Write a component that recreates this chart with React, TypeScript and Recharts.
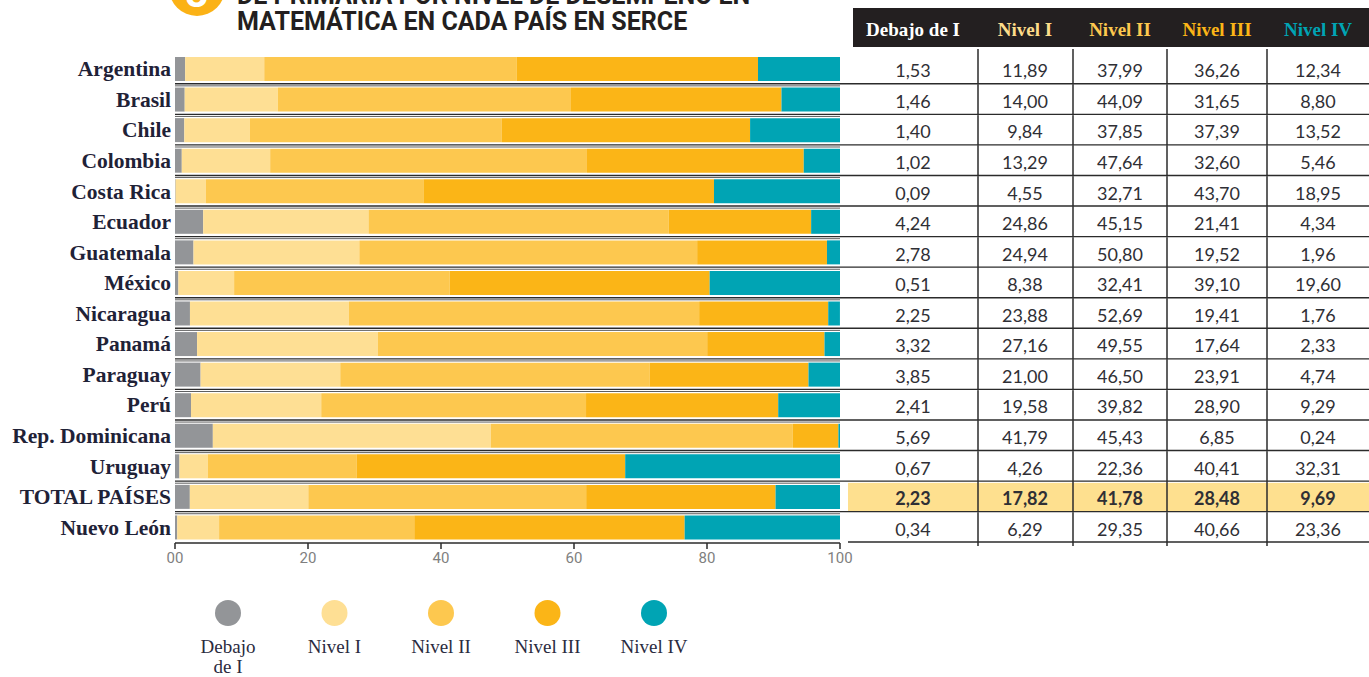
import { Bar, BarChart, XAxis, YAxis } from "recharts";

const countries = [
  "Argentina",
  "Brasil",
  "Chile",
  "Colombia",
  "Costa Rica",
  "Ecuador",
  "Guatemala",
  "México",
  "Nicaragua",
  "Panamá",
  "Paraguay",
  "Perú",
  "Rep. Dominicana",
  "Uruguay",
  "TOTAL PAÍSES",
  "Nuevo León",
];

const debajoDeI = [1.53, 1.46, 1.4, 1.02, 0.09, 4.24, 2.78, 0.51, 2.25, 3.32, 3.85, 2.41, 5.69, 0.67, 2.23, 0.34];
const nivelI = [11.89, 14.0, 9.84, 13.29, 4.55, 24.86, 24.94, 8.38, 23.88, 27.16, 21.0, 19.58, 41.79, 4.26, 17.82, 6.29];
const nivelII = [37.99, 44.09, 37.85, 47.64, 32.71, 45.15, 50.8, 32.41, 52.69, 49.55, 46.5, 39.82, 45.43, 22.36, 41.78, 29.35];
const nivelIII = [36.26, 31.65, 37.39, 32.6, 43.7, 21.41, 19.52, 39.1, 19.41, 17.64, 23.91, 28.9, 6.85, 40.41, 28.48, 40.66];
const nivelIV = [12.34, 8.8, 13.52, 5.46, 18.95, 4.34, 1.96, 19.6, 1.76, 2.33, 4.74, 9.29, 0.24, 32.31, 9.69, 23.36];

const xTicks = [0, 20, 40, 60, 80, 100];
const xTickLabels = ["00", "20", "40", "60", "80", "100"];

const series = [
  { key: "debajo", name: "Debajo de I", legend: ["Debajo", "de I"], values: debajoDeI, color: "#939598", head: "#ffffff" },
  { key: "n1", name: "Nivel I", legend: ["Nivel I"], values: nivelI, color: "#fedf94", head: "#fddc8a" },
  { key: "n2", name: "Nivel II", legend: ["Nivel II"], values: nivelII, color: "#fdc84f", head: "#fdc84f" },
  { key: "n3", name: "Nivel III", legend: ["Nivel III"], values: nivelIII, color: "#fbb517", head: "#fbb517" },
  { key: "n4", name: "Nivel IV", legend: ["Nivel IV"], values: nivelIV, color: "#00a4b4", head: "#00a4b4" },
];

const data = countries.map((country, i) => {
  const row: Record<string, string | number> = { country };
  series.forEach((s) => {
    row[s.key] = s.values[i];
  });
  return row;
});

const W = 1369;
const H = 677;
const TOP = 54;
const BOTTOM = 543;
const LEFT = 175;
const RIGHT = 840;
const ROW_H = (BOTTOM - TOP) / countries.length;
const TABLE_X = 848;
const colCenters = [913, 1025, 1120, 1217, 1318];
const colDividers = [978, 1073, 1167, 1267];
const totalIndex = countries.indexOf("TOTAL PAÍSES");

const fmt = (v: number) => v.toFixed(2).replace(".", ",");

function CountryTick(props: any) {
  const { y, payload } = props;
  return (
    <text
      x={LEFT - 4}
      y={y}
      textAnchor="end"
      dominantBaseline="central"
      fontFamily="Liberation Serif"
      fontWeight="bold"
      fontSize={21.5}
      fill="#1f2237"
    >
      {payload.value}
    </text>
  );
}

function TableRow(props: any) {
  const { y, payload } = props;
  const i = countries.indexOf(payload.value);
  const last = i === countries.length - 1;
  const yb = y + ROW_H / 2;
  const top = i === 0 ? 49 : y - ROW_H / 2;
  const bottom = last ? yb + 3 : yb;
  return (
    <g>
      {i === totalIndex && (
        <rect x={TABLE_X} y={y - ROW_H / 2 + 1} width={W - TABLE_X} height={ROW_H - 2} fill="#fee08f" />
      )}
      {series.map((s, c) => (
        <text
          key={s.key}
          x={colCenters[c]}
          y={y + 1}
          textAnchor="middle"
          dominantBaseline="central"
          fontFamily="Lato"
          fontWeight={i === totalIndex ? "bold" : "normal"}
          fontSize={18}
          fill="#2f2f35"
        >
          {fmt(s.values[i])}
        </text>
      ))}
      {colDividers.map((x) => (
        <line key={x} x1={x} x2={x} y1={top} y2={bottom} stroke="#2b2b2b" strokeWidth={1.5} />
      ))}
      {!last && (
        <>
          <line x1={LEFT} x2={W} y1={yb - 0.8} y2={yb - 0.8} stroke="#2b2b2b" strokeWidth={1.4} />
          <line x1={LEFT} x2={RIGHT} y1={yb + 1.3} y2={yb + 1.3} stroke="#5e5e5e" strokeWidth={1} />
        </>
      )}
      {last && <line x1={TABLE_X} x2={W} y1={yb - 1} y2={yb - 1} stroke="#2b2b2b" strokeWidth={1.4} />}
    </g>
  );
}

export default function App() {
  return (
    <div style={{ position: "absolute", left: 0, top: 0, width: W, height: H, background: "#fff", overflow: "hidden" }}>
      <svg width={W} height={H} style={{ position: "absolute", left: 0, top: 0 }}>
        <circle cx={197} cy={-12} r={28} fill="#fbb216" />
        <text x={197} y={7} textAnchor="middle" fontFamily="Roboto" fontWeight="bold" fontSize={40} fill="#fff">
          3
        </text>
        <text x={237} y={4} fontFamily="Roboto" fontWeight="bold" fontSize={25} fill="#231f20">
          DE PRIMARIA POR NIVEL DE DESEMPEÑO EN
        </text>
        <text x={237} y={30} fontFamily="Roboto" fontWeight="bold" fontSize={25} fill="#231f20">
          MATEMÁTICA EN CADA PAÍS EN SERCE
        </text>
        <rect x={853} y={8} width={W - 853} height={39} fill="#231f20" />
        {series.map((s, c) => (
          <text
            key={s.key}
            x={colCenters[c]}
            y={29}
            textAnchor="middle"
            dominantBaseline="central"
            fontFamily="Liberation Serif"
            fontWeight="bold"
            fontSize={19}
            fill={s.head}
          >
            {s.name}
          </text>
        ))}
        {series.map((s, c) => {
          const cx = 228 + c * 106.5;
          return (
            <g key={s.key}>
              <circle cx={cx} cy={613} r={13} fill={s.color} />
              {s.legend.map((line, l) => (
                <text
                  key={line}
                  x={cx}
                  y={653 + l * 20}
                  textAnchor="middle"
                  fontFamily="Liberation Serif"
                  fontSize={19}
                  fill="#2a2b40"
                >
                  {line}
                </text>
              ))}
            </g>
          );
        })}
      </svg>
      <div style={{ position: "absolute", left: 0, top: 0 }}>
        <BarChart
          width={W}
          height={H}
          data={data}
          layout="vertical"
          margin={{ top: TOP, right: 0, bottom: H - BOTTOM - 30, left: 0 }}
        >
          <XAxis
            type="number"
            domain={[0, 100]}
            ticks={xTicks}
            allowDataOverflow
            height={30}
            tickFormatter={(v: number) => xTickLabels[xTicks.indexOf(v)]}
            axisLine={{ stroke: "#2b2b2b", strokeWidth: 1.5 }}
            tickLine={{ stroke: "#2b2b2b", strokeWidth: 1.5 }}
            tickSize={6}
            tickMargin={3}
            tick={{ fill: "#7f7f7f", fontSize: 15, fontFamily: "Roboto" }}
          />
          <YAxis
            yAxisId="left"
            type="category"
            dataKey="country"
            width={LEFT}
            interval={0}
            axisLine={false}
            tickLine={false}
            tick={<CountryTick />}
          />
          <YAxis
            yAxisId="right"
            orientation="right"
            type="category"
            dataKey="country"
            width={W - RIGHT}
            interval={0}
            axisLine={false}
            tickLine={false}
            tick={<TableRow />}
          />
          {series.map((s) => (
            <Bar
              key={s.key}
              yAxisId="left"
              dataKey={s.key}
              name={s.name}
              stackId="a"
              fill={s.color}
              barSize={24}
              isAnimationActive={false}
            />
          ))}
        </BarChart>
      </div>
    </div>
  );
}
